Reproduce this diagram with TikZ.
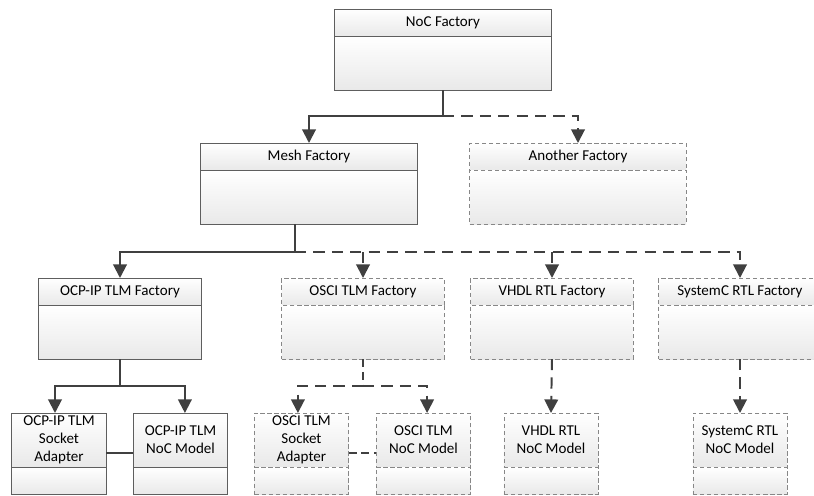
\documentclass[tikz,border=0pt]{standalone}
\usepackage{fontspec}
\setmainfont{Carlito}
\usetikzlibrary{arrows.meta,positioning,calc}
\definecolor{clsLine}{HTML}{5E5E5E}
\definecolor{clsDash}{HTML}{878787}
\definecolor{clsFill}{HTML}{E9E9E9}
\definecolor{connInk}{HTML}{404040}
\tikzset{
  cls/.style={draw=clsLine, line width=0.7pt, top color=white, bottom color=clsFill, inner sep=0pt, outer sep=0pt, font=\fontsize{10.7}{13}\selectfont, align=center},
  clsD/.style={cls, draw=clsDash, dash pattern=on 3pt off 2pt},
  hdA/.style={minimum width=5.4cm, minimum height=0.675cm},
  bdA/.style={minimum width=5.4cm, minimum height=1.35cm},
  hdB/.style={minimum width=4.05cm, minimum height=0.675cm},
  bdB/.style={minimum width=4.05cm, minimum height=1.35cm},
  hdC/.style={minimum width=2.35cm, minimum height=1.35cm},
  bdC/.style={minimum width=2.35cm, minimum height=0.675cm},
  arr/.style={-{Triangle[length=0.34cm,width=0.34cm]}, line width=1.4pt, draw=connInk},
  arrD/.style={arr, dash pattern=on 0.28cm off 0.18cm},
  lnk/.style={line width=1.4pt, draw=connInk},
  lnkD/.style={lnk, dash pattern=on 0.2cm off 0.12cm},
}
\begin{document}
\begin{tikzpicture}[x=0.025cm,y=-0.025cm]
    \useasboundingbox (0,0) rectangle (814,495);
    \clip (0,0) rectangle (814,495);
    % factories, top and middle rows
    \node[cls, hdA] (noc) at (443,22.5) {NoC Factory};
    \node[cls, bdA, below=0pt of noc] (nocB) {};
    \node[cls, hdA] (mesh) at (309,156.5) {Mesh Factory};
    \node[cls, bdA, below=0pt of mesh] (meshB) {};
    \node[clsD, hdA] (another) at (578,156.5) {Another Factory};
    \node[clsD, bdA, below=0pt of another] (anotherB) {};
    % concrete factories
    \node[cls, hdB] (ocp) at (120,291.5) {OCP-IP TLM Factory};
    \node[cls, bdB, below=0pt of ocp] (ocpB) {};
    \foreach \nm/\px/\ttl in {osci/363/OSCI TLM Factory, vhdl/552/VHDL RTL Factory, sysc/740/SystemC RTL Factory} {
        \node[clsD, hdB] (\nm) at (\px,291.5) {\ttl};
        \node[clsD, bdB, below=0pt of \nm] (\nm B) {};
    }
    % generated models
    \node[cls, hdC] (ocpA) at (59,440) {OCP-IP TLM\\Socket\\Adapter};
    \node[cls, bdC, below=0pt of ocpA] (ocpAB) {};
    \node[cls, hdC] (ocpM) at (180.5,440) {OCP-IP TLM\\NoC Model};
    \node[cls, bdC, below=0pt of ocpM] (ocpMB) {};
    \node[clsD, hdC] (osciA) at (301.5,440) {OSCI TLM\\Socket\\Adapter};
    \node[clsD, bdC, below=0pt of osciA] (osciAB) {};
    \node[clsD, hdC] (osciM) at (423.5,440) {OSCI TLM\\NoC Model};
    \node[clsD, bdC, below=0pt of osciM] (osciMB) {};
    \node[clsD, hdC] (vhdlM) at (551,440) {VHDL RTL\\NoC Model};
    \node[clsD, bdC, below=0pt of vhdlM] (vhdlMB) {};
    \node[clsD, hdC] (syscM) at (740,440) {SystemC RTL\\NoC Model};
    \node[clsD, bdC, below=0pt of syscM] (syscMB) {};
    % NoC factory -> mesh / another
    \coordinate (j1) at ($(nocB.south)+(0,26)$);
    \draw[lnk] (nocB.south) -- (j1);
    \draw[arr] (j1) -| (mesh.north);
    \draw[arrD] (j1) -| (another.north);
    % mesh factory -> concrete factories
    \coordinate (j2) at ($([xshift=-0.35cm]meshB.south)+(0,28)$);
    \draw[lnk] ([xshift=-0.35cm]meshB.south) -- (j2);
    \draw[arr] (j2) -| (ocp.north);
    \draw[arrD] (j2) -| (sysc.north);
    \draw[arrD] (j2 -| osci.north) -- (osci.north);
    \draw[arrD] (j2 -| vhdl.north) -- (vhdl.north);
    % OCP-IP branch
    \coordinate (j3) at ($(ocpB.south)+(0,27)$);
    \draw[lnk] (ocpB.south) -- (j3);
    \draw[arr] (j3) -| ([xshift=-0.1cm]ocpA.north);
    \draw[arr] (j3) -| ([xshift=0.11cm]ocpM.north);
    \draw[lnk] ([yshift=-0.325cm]ocpA.east) -- ([yshift=-0.325cm]ocpM.west);
    % OSCI branch
    \coordinate (j4) at ($(osciB.south)+(0,27)$);
    \draw[lnkD] (osciB.south) -- (j4);
    \draw[arrD] (j4) -| ([xshift=-0.09cm]osciA.north);
    \draw[arrD] (j4) -| ([xshift=0.09cm]osciM.north);
    \draw[lnkD] ([yshift=-0.325cm]osciA.east) -- ([yshift=-0.325cm]osciM.west);
    % RTL branches
    \draw[arrD] (vhdlB.south) -- (vhdlM.north);
    \draw[arrD] (syscB.south) -- (syscM.north);
\end{tikzpicture}
\end{document}
